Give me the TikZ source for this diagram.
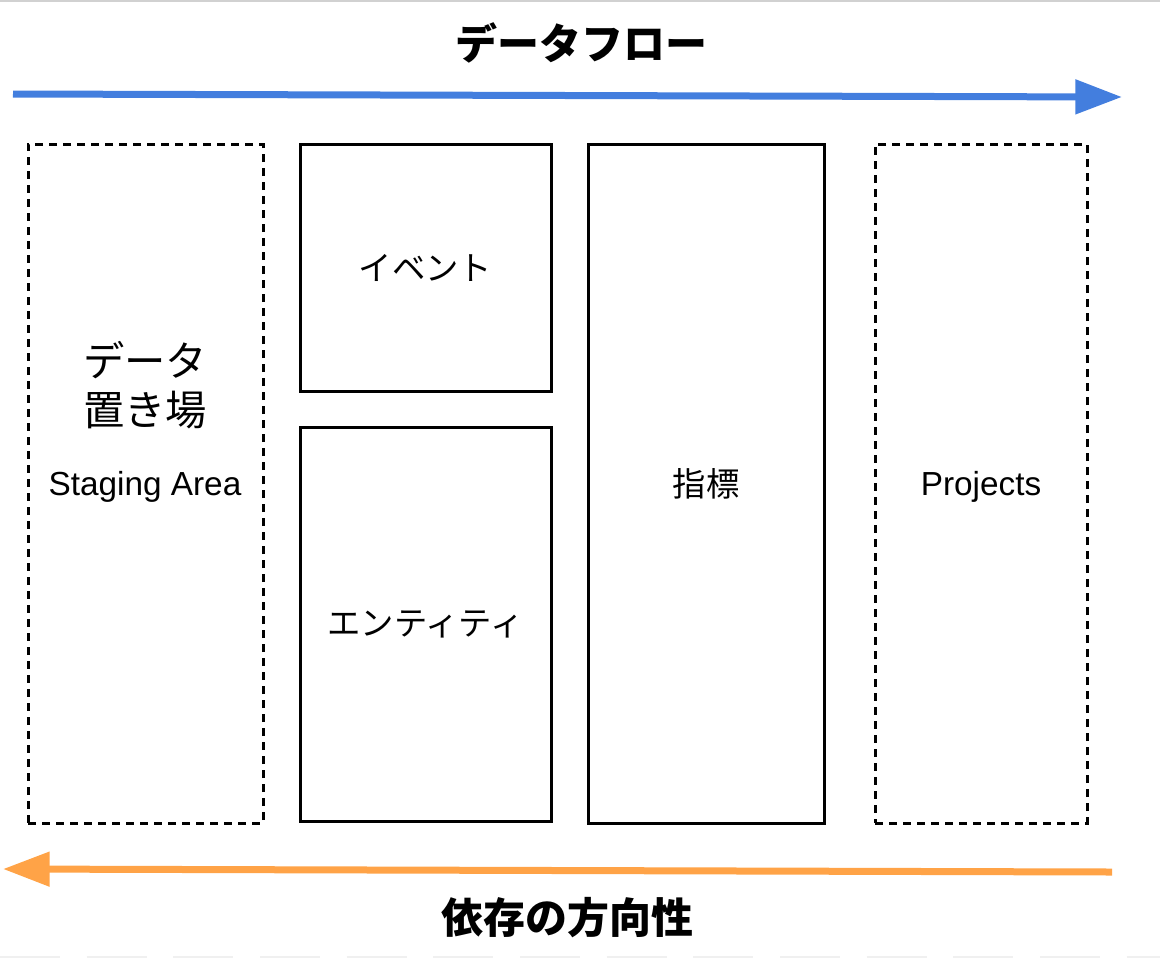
\documentclass[tikz,border=0pt]{standalone}
\usepackage{fontspec}
\setmainfont{Liberation Sans}
\newfontfamily\jp{Noto Sans CJK JP}
\usetikzlibrary{arrows.meta}
\definecolor{flowblue}{HTML}{437EDE}
\definecolor{deporange}{HTML}{FFA347}
\begin{document}
\begin{tikzpicture}[x=0.75pt,y=-0.75pt,
  frame/.style={draw=black,line width=2.25pt,inner sep=0pt,outer sep=0pt},
  dashframe/.style={frame,dash pattern=on 6pt off 4.5pt},
  lbl/.style={font=\jp\fontsize{25}{30}\selectfont},
  latin/.style={font=\fontsize{25}{30}\selectfont},
  title/.style={font=\jp\bfseries\fontsize{31.5}{36}\selectfont},
  bigarrow/.style={line width=5.25pt,-{Triangle[length=35pt,width=25pt]}}]
\useasboundingbox (0,0) rectangle (1160,958);
\draw[line width=1.5pt,color=black!18] (0,1) -- (1160,1);
\draw[line width=1pt,color=black!6,dash pattern=on 45pt off 20pt] (0,957) -- (1160,957);
% title and flow arrow
\node[title] (flowtitle) at (581,43) {データフロー};
\coordinate (bstart) at (13,94);
\coordinate (bend) at (1122,97);
\draw[bigarrow,color=flowblue] (bstart) -- (bend);
% boxes
\node[dashframe,minimum width=176.25pt,minimum height=509.25pt] (staging) at (145.5,483.5) {};
\node[frame,minimum width=188.25pt,minimum height=185.25pt,lbl] (event) at (425.5,267.5) {イベント};
\node[frame,minimum width=188.25pt,minimum height=295.5pt,lbl] (entity) at (425.5,624) {エンティティ};
\node[frame,minimum width=177pt,minimum height=509.25pt,lbl] (metric) at (706,483.5) {指標};
\node[dashframe,minimum width=159pt,minimum height=509.25pt] (projects) at (981,483.5) {};
\node[latin] (projlabel) at (981,487) {Projects};
% staging text
\node[font=\jp\fontsize{31}{36}\selectfont] (data) at (145,360) {データ};
\node[font=\jp\fontsize{31}{36}\selectfont] (place) at (145,410) {置き場};
\node[latin] (stagingarea) at (145,487) {Staging Area};
% dependency arrow
\coordinate (ostart) at (1112,872);
\coordinate (oend) at (3,869);
\draw[bigarrow,color=deporange] (ostart) -- (oend);
\node[title] (deptitle) at (567,918) {依存の方向性};
\end{tikzpicture}
\end{document}
